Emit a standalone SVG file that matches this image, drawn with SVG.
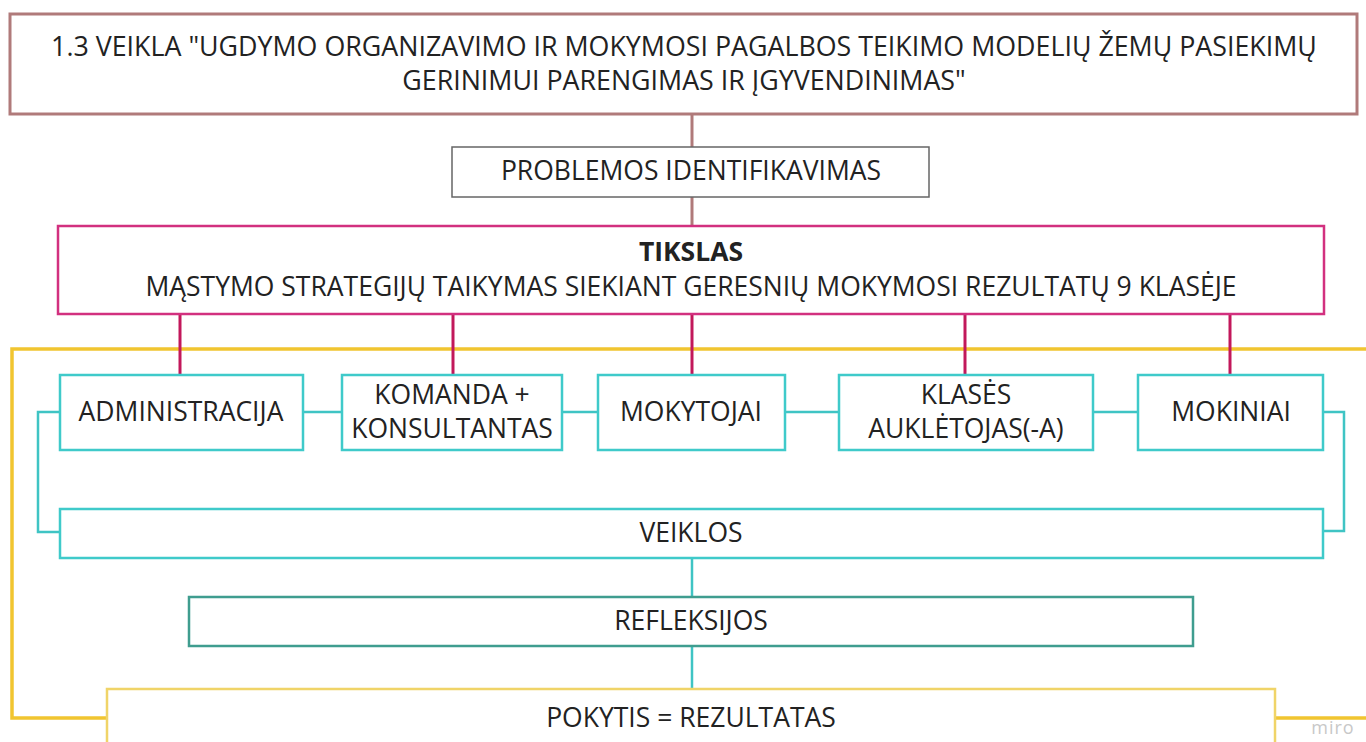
<svg xmlns="http://www.w3.org/2000/svg" width="1366" height="742" viewBox="0 0 1366 742">
<style>
text{font-family:"Open Sans","Noto Sans","Liberation Sans",sans-serif;font-size:26.5px;fill:#222;text-anchor:middle}
.b{font-weight:bold}
.teal{stroke:#3fcaca;stroke-width:2.5;fill:#fff}
.tl{stroke:#3fc4c4;stroke-width:2.5;fill:none}
.mag{stroke:#c2185b;stroke-width:3;fill:none}
.rose{stroke:#b07a7a;stroke-width:3;fill:none}
.yel{stroke:#f1c530;stroke-width:3.5;fill:none}
</style>
<rect width="1366" height="742" fill="#fff"/>
<g id="connectors">
<path class="yel" d="M107,718 H12 V349 H1370 M1275,718 H1370"/>
<line class="rose" x1="692" y1="114" x2="692" y2="147"/>
<line class="rose" x1="692" y1="197" x2="692" y2="226"/>
<line class="mag" x1="180" y1="315" x2="180" y2="375"/>
<line class="mag" x1="453" y1="315" x2="453" y2="375"/>
<line class="mag" x1="692" y1="315" x2="692" y2="375"/>
<line class="mag" x1="965" y1="315" x2="965" y2="375"/>
<line class="mag" x1="1230" y1="315" x2="1230" y2="375"/>
<path class="tl" d="M303,412 H342 M562,412 H598 M785,412 H839 M1093,412 H1138"/>
<path class="tl" d="M60,412 H38 V532 H60"/>
<path class="tl" d="M1323,412 H1344 V531 H1323"/>
<line class="tl" x1="692" y1="558" x2="692" y2="597"/>
<line class="tl" x1="692" y1="646" x2="692" y2="689"/>
</g>
<g id="n-title">
<rect x="10" y="14" width="1347" height="100" fill="#fff" stroke="#b07a7a" stroke-width="3"/>
<text x="684" y="56" style="font-size:26.8px">1.3 VEIKLA "UGDYMO ORGANIZAVIMO IR MOKYMOSI PAGALBOS TEIKIMO MODELIŲ ŽEMŲ PASIEKIMŲ</text>
<text x="684" y="90" style="font-size:26.8px">GERINIMUI PARENGIMAS IR ĮGYVENDINIMAS"</text>
</g>
<g id="n-problem">
<rect x="452" y="147" width="477" height="50" fill="#fff" stroke="#666" stroke-width="1.5"/>
<text x="691" y="180">PROBLEMOS IDENTIFIKAVIMAS</text>
</g>
<g id="n-tikslas">
<rect x="58" y="226" width="1266" height="88" fill="#fff" stroke="#d2307f" stroke-width="2.5"/>
<text class="b" x="691" y="261">TIKSLAS</text>
<text x="691" y="296">MĄSTYMO STRATEGIJŲ TAIKYMAS SIEKIANT GERESNIŲ MOKYMOSI REZULTATŲ 9 KLASĖJE</text>
</g>
<g id="n-admin">
<rect class="teal" x="60" y="375" width="243" height="75"/>
<text x="181" y="421">ADMINISTRACIJA</text>
</g>
<g id="n-komanda">
<rect class="teal" x="342" y="375" width="220" height="75"/>
<text x="452" y="404">KOMANDA +</text>
<text x="452" y="438">KONSULTANTAS</text>
</g>
<g id="n-mokytojai">
<rect class="teal" x="598" y="375" width="187" height="75"/>
<text x="691" y="421">MOKYTOJAI</text>
</g>
<g id="n-klases">
<rect class="teal" x="839" y="375" width="254" height="75"/>
<text x="966" y="404">KLASĖS</text>
<text x="966" y="438">AUKLĖTOJAS(-A)</text>
</g>
<g id="n-mokiniai">
<rect class="teal" x="1138" y="375" width="185" height="75"/>
<text x="1231" y="421">MOKINIAI</text>
</g>
<g id="n-veiklos">
<rect class="teal" x="60" y="509" width="1263" height="49"/>
<text x="691" y="542">VEIKLOS</text>
</g>
<g id="n-refleksijos">
<rect x="189" y="597" width="1004" height="49" fill="#fff" stroke="#3f9d8f" stroke-width="2.5"/>
<text x="691" y="630">REFLEKSIJOS</text>
</g>
<g id="n-pokytis">
<rect x="107" y="689" width="1168" height="70" fill="#fff" stroke="#f0d468" stroke-width="2.5"/>
<text x="691" y="727">POKYTIS = REZULTATAS</text>
</g>
<text x="1333" y="734" style="font-size:18px;fill:#c8c8c8;letter-spacing:1px">miro</text>
</svg>
